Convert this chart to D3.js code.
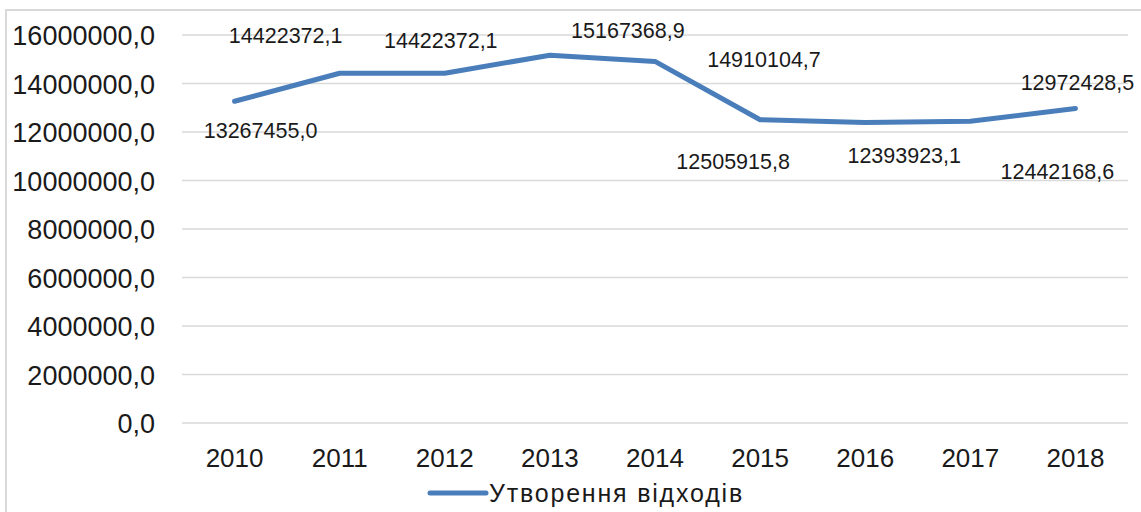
<!DOCTYPE html>
<html>
<head>
<meta charset="utf-8">
<script src="https://cdn.jsdelivr.net/npm/d3@7"></script>
<style>
  html, body { margin: 0; padding: 0; background: #fff; }
  svg { display: block; }
  .f { font-family: "Liberation Sans", Arial, sans-serif; fill: #1a1a1a; }
</style>
</head>
<body>
<svg id="chart" width="1141" height="512"></svg>
<script>
const years = ["2010","2011","2012","2013","2014","2015","2016","2017","2018"];
const waste = [13267455.0, 14422372.1, 14422372.1, 15167368.9, 14910104.7, 12505915.8, 12393923.1, 12442168.6, 12972428.5];
const valueLabels = ["13267455,0","14422372,1","14422372,1","15167368,9","14910104,7","12505915,8","12393923,1","12442168,6","12972428,5"];
const yTicks = [0, 2000000, 4000000, 6000000, 8000000, 10000000, 12000000, 14000000, 16000000];
const seriesName = "Утворення відходів";
// label offsets (px) from each point, as placed in the original
const labelDx = [26, -54, -4, 78, 109, -27, 39, 87, 2];
const labelDy = [29, -38, -33, -25, -2, 42, 33, 50, -26];

const svg = d3.select("#chart");
const plotLeft = 182, plotRight = 1128, plotTop = 35, plotBottom = 423;

// outer frame
svg.append("rect").attr("x", 6).attr("y", 10).attr("width", 1200).attr("height", 600)
  .attr("fill", "none").attr("stroke", "#d9d9d9").attr("stroke-width", 2);

const x = d3.scaleBand().domain(years).range([plotLeft, plotRight]).padding(0);
const y = d3.scaleLinear().domain([0, 16000000]).range([plotBottom, plotTop]);

const fmt = v => d3.format(".1f")(v).replace(".", ",");

// gridlines
svg.append("g").selectAll("line").data(yTicks).join("line")
  .attr("x1", plotLeft).attr("x2", plotRight)
  .attr("y1", d => y(d)).attr("y2", d => y(d))
  .attr("stroke", "#d9d9d9").attr("stroke-width", 1.5);

// y axis labels
const yAxis = d3.axisLeft(y).tickValues(yTicks).tickFormat(fmt).tickSize(0).tickPadding(27);
const gy = svg.append("g").attr("transform", `translate(${plotLeft},0)`).call(yAxis);
gy.select(".domain").remove();
gy.selectAll("text").attr("class", "f").attr("font-size", 27)
  .attr("fill", "#1a1a1a").attr("dy", "0.36em");

// x axis labels
const xAxis = d3.axisBottom(x).tickSize(0).tickPadding(26);
const gx = svg.append("g").attr("transform", `translate(0,${plotBottom})`).call(xAxis);
gx.select(".domain").remove();
gx.selectAll("text").attr("class", "f").attr("font-size", 26)
  .attr("fill", "#1a1a1a");

// line
const line = d3.line().x((d, i) => x(years[i]) + x.bandwidth() / 2).y(d => y(d));
svg.append("path").datum(waste).attr("d", line)
  .attr("fill", "none").attr("stroke", "#4a7ebb").attr("stroke-width", 5)
  .attr("stroke-linejoin", "round").attr("stroke-linecap", "round");

// data labels
svg.append("g").selectAll("text").data(waste).join("text")
  .attr("class", "f").attr("font-size", 21.5)
  .attr("text-anchor", "middle").attr("dy", "0.36em")
  .attr("x", (d, i) => x(years[i]) + x.bandwidth() / 2 + labelDx[i])
  .attr("y", (d, i) => y(d) + labelDy[i])
  .text((d, i) => valueLabels[i]);

// legend
const lg = svg.append("g");
lg.append("line").attr("x1", 430).attr("x2", 486).attr("y1", 493).attr("y2", 493)
  .attr("stroke", "#4a7ebb").attr("stroke-width", 5).attr("stroke-linecap", "round");
lg.append("text").attr("class", "f").attr("x", 489).attr("y", 493).attr("dy", "0.36em")
  .attr("font-size", 25).style("letter-spacing", "1.8px").text(seriesName);
</script>
</body>
</html>
